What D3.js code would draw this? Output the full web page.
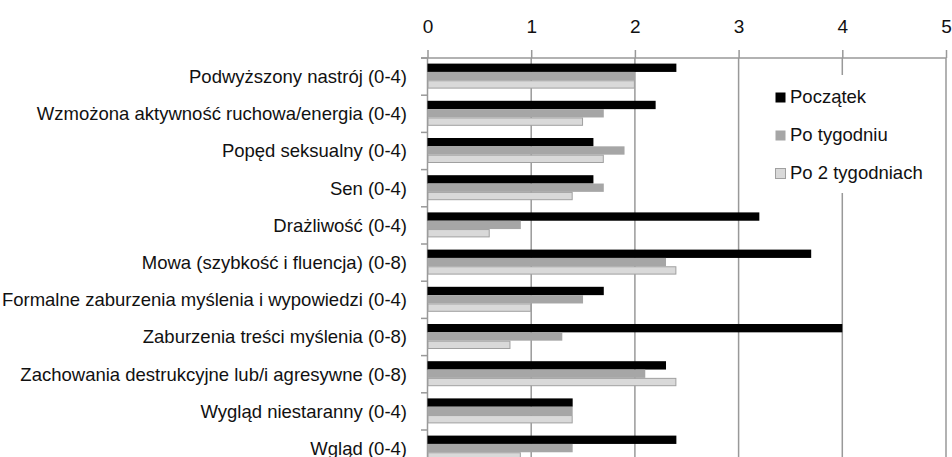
<!DOCTYPE html>
<html>
<head>
<meta charset="utf-8">
<script src="https://cdn.jsdelivr.net/npm/d3@7"></script>
<style>
  html, body { margin: 0; padding: 0; background: #fff; }
  svg { display: block; font-family: "Liberation Sans", Arial, sans-serif; }
</style>
</head>
<body>
<svg id="chart" width="952" height="457"></svg>
<script>
// Categories (top to bottom) and the three measurement times
const categories = [
  "Podwyższony nastrój (0-4)",
  "Wzmożona aktywność ruchowa/energia (0-4)",
  "Popęd seksualny (0-4)",
  "Sen (0-4)",
  "Drażliwość (0-4)",
  "Mowa (szybkość i fluencja) (0-8)",
  "Formalne zaburzenia myślenia i wypowiedzi (0-4)",
  "Zaburzenia treści myślenia (0-8)",
  "Zachowania destrukcyjne lub/i agresywne (0-8)",
  "Wygląd niestaranny (0-4)",
  "Wgląd (0-4)"
];
const seriesNames = ["Początek", "Po tygodniu", "Po 2 tygodniach"];
const poczatek     = [2.4, 2.2, 1.6, 1.6, 3.2, 3.7, 1.7, 4.0, 2.3, 1.4, 2.4];
const poTygodniu   = [2.0, 1.7, 1.9, 1.7, 0.9, 2.3, 1.5, 1.3, 2.1, 1.4, 1.4];
const po2Tygodniach = [2.0, 1.5, 1.7, 1.4, 0.6, 2.4, 1.0, 0.8, 2.4, 1.4, 0.9];
const tickValues = [0, 1, 2, 3, 4, 5];

const seriesValues = [poczatek, poTygodniu, po2Tygodniach];
const fills = ["#000000", "#a6a6a6", "#d9d9d9"];
const strokes = ["none", "none", "#a0a0a0"];

const svg = d3.select("#chart");
const plotTop = 58;
const step = 37.2;
const fontSize = 18.5;
const x = d3.scaleLinear().domain([0, 5]).range([427.5, 946]);
const y = d3.scaleBand().domain(categories)
  .range([plotTop, plotTop + step * categories.length]).padding(0);
const ySub = d3.scaleBand().domain(seriesNames).range([5.6, 30.6]).padding(0);

const gridColor = "#999999";

// Vertical gridlines
svg.append("g").selectAll("line")
  .data(tickValues.slice(1))
  .join("line")
  .attr("x1", d => x(d)).attr("x2", d => x(d))
  .attr("y1", plotTop).attr("y2", plotTop + step * categories.length)
  .attr("stroke", gridColor).attr("stroke-width", 1.5);

// Top value axis
const xAxis = d3.axisTop(x).tickValues(tickValues).tickSize(8).tickPadding(17)
  .tickFormat(d3.format("d"));
const gx = svg.append("g").attr("transform", `translate(0,${plotTop})`).call(xAxis);
gx.select(".domain").remove();
gx.append("line").attr("x1", 421).attr("x2", x(5)).attr("y1", 0).attr("y2", 0)
  .attr("stroke", gridColor).attr("stroke-width", 1.5);
gx.selectAll(".tick line").attr("stroke", gridColor).attr("stroke-width", 1.5);
gx.selectAll(".tick text").attr("font-size", 19).attr("fill", "#111")
  .attr("font-family", "Liberation Sans, Arial, sans-serif");

// Category axis on the left
const boundaries = d3.range(categories.length + 1).map(i => plotTop + i * step);
const gy = svg.append("g");
gy.append("line").attr("x1", x(0)).attr("x2", x(0))
  .attr("y1", plotTop).attr("y2", plotTop + step * categories.length)
  .attr("stroke", gridColor).attr("stroke-width", 1.5);
gy.selectAll("line.tk").data(boundaries).join("line").attr("class", "tk")
  .attr("x1", 421).attr("x2", x(0)).attr("y1", d => d).attr("y2", d => d)
  .attr("stroke", gridColor).attr("stroke-width", 1.5);
gy.selectAll("text").data(categories).join("text")
  .attr("x", 407).attr("y", d => y(d) + y.bandwidth() / 2)
  .attr("dy", "0.35em").attr("text-anchor", "end")
  .attr("font-size", fontSize).attr("fill", "#111").text(d => d);

// Bars
const groups = svg.append("g").selectAll("g")
  .data(categories).join("g")
  .attr("transform", d => `translate(0,${y(d)})`);
groups.selectAll("rect")
  .data((d, i) => seriesNames.map((s, j) => ({ s, j, v: seriesValues[j][i] })))
  .join("rect")
  .attr("x", d => x(0) + (d.j === 2 ? 0.5 : 0))
  .attr("y", d => ySub(d.s) + (d.j === 2 ? 0.5 : 0))
  .attr("width", d => x(d.v) - x(0) - (d.j === 2 ? 1 : 0))
  .attr("height", d => ySub.bandwidth() - (d.j === 2 ? 1 : 0))
  .attr("fill", d => fills[d.j])
  .attr("stroke", d => strokes[d.j])
  .attr("stroke-width", 1);

// Legend
const legend = svg.append("g");
legend.append("rect").attr("x", 764).attr("y", 75).attr("width", 176).attr("height", 118)
  .attr("fill", "#fff");
const li = legend.selectAll("g.item").data(seriesNames).join("g").attr("class", "item")
  .attr("transform", (d, i) => `translate(775,${97 + i * 38})`);
li.append("rect").attr("x", 0.5).attr("y", -4.5).attr("width", 10).attr("height", 10)
  .attr("fill", (d, i) => fills[i])
  .attr("stroke", (d, i) => strokes[i]);
li.append("text").attr("x", 15).attr("y", 0).attr("dy", "0.35em")
  .attr("font-size", fontSize).attr("fill", "#111").text(d => d);
</script>
</body>
</html>
